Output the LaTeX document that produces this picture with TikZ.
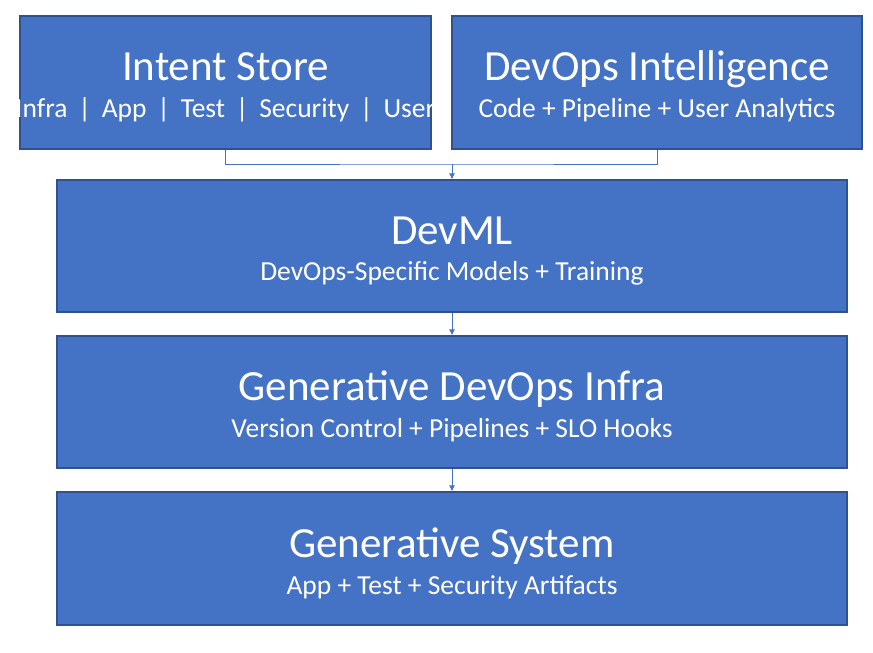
\documentclass[tikz,border=0pt]{standalone}
\usepackage{fontspec}
\setmainfont{Carlito}
\usetikzlibrary{arrows.meta}
\definecolor{boxfill}{HTML}{4472C4}
\definecolor{boxline}{HTML}{2F528F}
\tikzset{
  blk/.style={draw=boxline, line width=1.2pt, fill=boxfill, inner sep=0pt},
  ttl/.style={text=white, anchor=base, inner sep=0pt, font=\fontsize{43}{48}\selectfont},
  sbt/.style={text=white, anchor=base, inner sep=0pt, font=\fontsize{27.5}{32}\selectfont},
  conn/.style={draw=boxfill, line width=0.9pt},
  tip/.style={-{Latex[length=6pt,width=6pt]}}
}
\begin{document}
\begin{tikzpicture}[x=1pt,y=-1pt]
\useasboundingbox (0,0) rectangle (873,653);
\node[blk, minimum width=411pt, minimum height=133pt] (intent) at (225.5,82.5) {};
\node[ttl] (intentT) at (225.5,80) {Intent Store};
\node[sbt] (intentS) at (225.5,117) {Infra \,|\, App \,|\, Test \,|\, Security \,|\, User};
\node[blk, minimum width=410pt, minimum height=133pt] (intel) at (657,82.5) {};
\node[ttl] (intelT) at (657,80) {DevOps Intelligence};
\node[sbt] (intelS) at (657,117) {Code + Pipeline + User Analytics};
\node[blk, minimum width=790pt, minimum height=132pt] (devml) at (452,246) {};
\node[ttl] (devmlT) at (452,244) {DevML};
\node[sbt] (devmlS) at (452,280) {DevOps-Specific Models + Training};
\node[blk, minimum width=790pt, minimum height=132pt] (infra) at (452,402) {};
\node[ttl] (infraT) at (452,400) {Generative DevOps Infra};
\node[sbt] (infraS) at (452,437) {Version Control + Pipelines + SLO Hooks};
\node[blk, minimum width=790pt, minimum height=133pt] (sys) at (452,558.5) {};
\node[ttl] (sysT) at (452,557) {Generative System};
\node[sbt] (sysS) at (452,594) {App + Test + Security Artifacts};
\coordinate (j) at (452,164);
\draw[conn] (intent.south) |- (j) -| (intel.south);
\draw[conn, tip] (j) -- (devml.north);
\draw[conn, tip] (devml.south) -- (infra.north);
\draw[conn, tip] (infra.south) -- (sys.north);
\end{tikzpicture}
\end{document}
